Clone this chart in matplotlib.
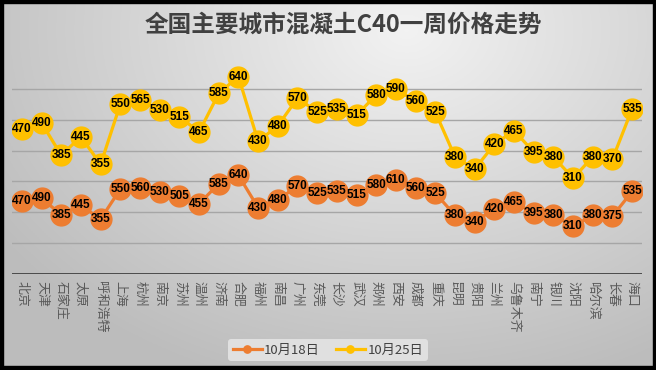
import numpy as np
import matplotlib.pyplot as plt
from matplotlib.patches import Rectangle

plt.rcParams['font.family'] = ['Noto Sans CJK SC', 'DejaVu Sans']

cities = ["北京", "天津", "石家庄", "太原", "呼和浩特", "上海", "杭州", "南京",
          "苏州", "温州", "济南", "合肥", "福州", "南昌", "广州", "东莞",
          "长沙", "武汉", "郑州", "西安", "成都", "重庆", "昆明", "贵阳",
          "兰州", "乌鲁木齐", "南宁", "银川", "沈阳", "哈尔滨", "长春", "海口"]
price_1018 = [470, 490, 385, 445, 355, 550, 560, 530, 505, 455, 585, 640, 430, 480, 570, 525,
              535, 515, 580, 610, 560, 525, 380, 340, 420, 465, 395, 380, 310, 380, 375, 535]
price_1025 = [470, 490, 385, 445, 355, 550, 565, 530, 515, 465, 585, 640, 430, 480, 570, 525,
              535, 515, 580, 590, 560, 525, 380, 340, 420, 465, 395, 380, 310, 380, 370, 535]
series_names = ["10月18日", "10月25日"]
title = "全国主要城市混凝土C40一周价格走势"

c_orange = "#ED7D31"
c_yellow = "#FFC000"

W, H = 656, 370
fig = plt.figure(figsize=(W / 100, H / 100), dpi=100)

# background: soft radial gradient, lightest near the upper middle-right
bg = fig.add_axes([0, 0, 1, 1], zorder=-10)
gx, gy = np.meshgrid(np.linspace(0, 1, 300), np.linspace(1, 0, 200))
dist = np.sqrt(((gx - 0.62) * 1.0) ** 2 + ((gy - 0.92) * 0.75) ** 2)
shade = np.clip(0.95 - 0.28 * dist, 0.74, 0.95)
bg.imshow(np.dstack([shade] * 3), extent=[0, 1, 0, 1], aspect="auto", origin="upper")
bg.set_xlim(0, 1)
bg.set_ylim(0, 1)
bg.axis("off")
# black frame
for (x0, y0, w, h) in [(0, 0, W, 3), (0, 366, W, 4), (0, 0, 3, H), (653, 0, 3, H)]:
    bg.add_patch(Rectangle((x0 / W, 1 - (y0 + h) / H), w / W, h / H, color="black",
                           transform=bg.transAxes))

left, right, top, bottom = 12, 642, 58, 274
ax = fig.add_axes([left / W, 1 - bottom / H, (right - left) / W, (bottom - top) / H])
ax.patch.set_alpha(0)

x = np.arange(len(cities))
s1 = np.array(price_1018)
s2 = s1 + np.array(price_1025)  # stacked line chart

ax.set_xlim(-0.5, len(cities) - 0.5)
ax.set_ylim(0, 1400)
for g in range(200, 1201, 200):
    ax.axhline(g, color="#a6a6a6", lw=1, zorder=0)
ax.axhline(0, color="#404040", lw=2.0, zorder=1)

ax.plot(x, s1, color=c_orange, lw=2.3, marker="o", ms=15, mec=c_orange, zorder=3, label=series_names[0])
ax.plot(x, s2, color=c_yellow, lw=2.3, marker="o", ms=15, mec=c_yellow, zorder=3, label=series_names[1])

for xi, y, v in zip(x, s1, price_1018):
    ax.text(xi, y, str(v), ha="center", va="center", fontsize=8.5, fontweight="bold",
            family="Liberation Sans", color="black", zorder=4)
for xi, y, v in zip(x, s2, price_1025):
    ax.text(xi, y, str(v), ha="center", va="center", fontsize=8.5, fontweight="bold",
            family="Liberation Sans", color="black", zorder=4)

ax.set_xticks(x)
ax.set_xticklabels(cities, fontsize=9.3, color="#595959", rotation=270,
                   ha="center", va="top", rotation_mode="default")
ax.tick_params(axis="x", length=0, pad=5)
ax.set_yticks([])
for sp in ax.spines.values():
    sp.set_visible(False)

fig.text(343 / W, 1 - 25 / H, title, ha="center", va="center", fontsize=17,
         fontweight="bold", color="#404040")

leg = fig.legend(loc="center", bbox_to_anchor=(328 / W, 1 - 350 / H), ncol=2,
                 frameon=True, fontsize=9.5, markerscale=0.35, handlelength=2.2,
                 handletextpad=0.2, columnspacing=1.2, borderpad=0.35)
leg.get_frame().set_facecolor("#e0e0e0")
leg.get_frame().set_edgecolor("none")
leg.get_frame().set_alpha(1)
for t in leg.get_texts():
    t.set_color("#404040")

fig.savefig("out.png", dpi=100)
